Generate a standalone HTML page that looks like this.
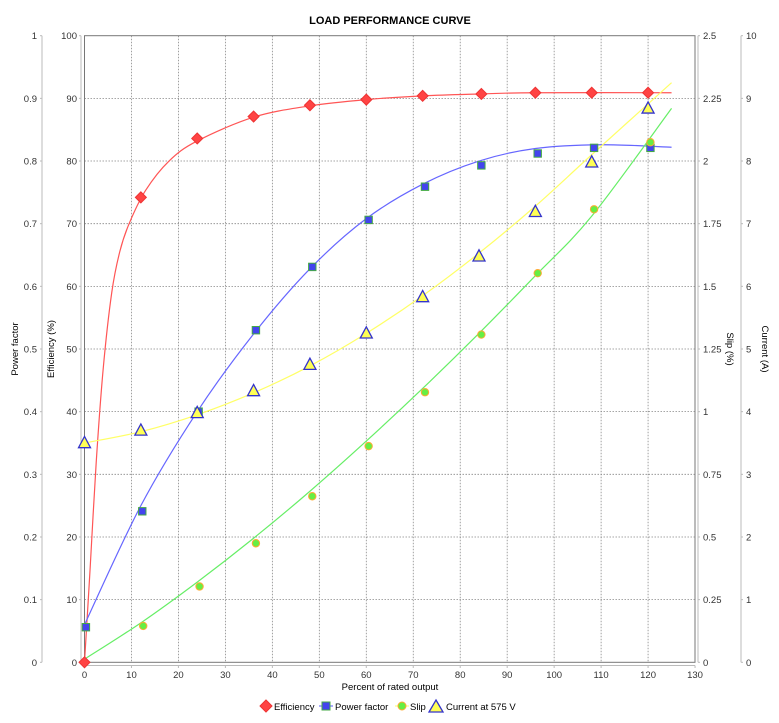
<!DOCTYPE html>
<html><head><meta charset="utf-8"><style>
body{margin:0;background:#fff;}
svg{display:block;font-family:"Liberation Sans","DejaVu Sans",sans-serif;}
</style></head><body>
<svg id="s" width="779" height="723" xmlns="http://www.w3.org/2000/svg">
<rect width="779" height="723" fill="#fff"/>
<text x="390" y="24" text-anchor="middle" font-size="11" font-weight="bold">LOAD PERFORMANCE CURVE</text>
<g id="grid"></g>
<rect x="84.5" y="35.7" width="610.5" height="626.6" fill="none" stroke="#777" stroke-width="1"/>
<g id="axes" font-size="9.5" fill="#333"></g>
<g id="curves" fill="none" stroke-width="1.2"></g>
<g id="marks"></g>
<text transform="translate(18,349) rotate(-90)" text-anchor="middle" font-size="9.5">Power factor</text>
<text transform="translate(54,349) rotate(-90)" text-anchor="middle" font-size="9.5">Efficiency (%)</text>
<text transform="translate(727,349) rotate(90)" text-anchor="middle" font-size="9.5">Slip (%)</text>
<text transform="translate(762,349) rotate(90)" text-anchor="middle" font-size="9.5">Current (A)</text>
<text x="390" y="690" text-anchor="middle" font-size="9.5">Percent of rated output</text>
<g font-size="9.5" id="legend">
<polygon points="266,700 272,706 266,712 260,706" fill="#f44" stroke="#e33"/>
<text x="274" y="710">Efficiency</text>
<line x1="319" y1="706" x2="333" y2="706" stroke="#55f"/><rect x="322" y="702" width="8" height="8" fill="#44e" stroke="#4a4"/>
<text x="335" y="710">Power factor</text>
<line x1="395" y1="706" x2="409" y2="706" stroke="#ff6"/><circle cx="402" cy="706" r="4" fill="#6e4" stroke="#fa3"/>
<text x="410" y="710">Slip</text>
<polygon points="436,700 443,712 429,712" fill="#ff5" stroke="#33c" stroke-width="1.3"/>
<text x="446" y="710">Current at 575 V</text>
</g>
</svg>
<script>
const NS="http://www.w3.org/2000/svg";
const X=v=>84.5+v*4.6965, Y=v=>662.3-v*6.266;
function el(p,t,a,txt){const e=document.createElementNS(NS,t);for(const k in a)e.setAttribute(k,a[k]);if(txt!==undefined)e.textContent=txt;document.getElementById(p).appendChild(e);return e;}
for(let i=1;i<13;i++)el("grid","line",{x1:X(i*10),x2:X(i*10),y1:35.7,y2:662.3,stroke:"#888","stroke-dasharray":"1.5,1.5","stroke-width":0.8});
for(let i=1;i<10;i++)el("grid","line",{x1:84.5,x2:695,y1:Y(i*10),y2:Y(i*10),stroke:"#888","stroke-dasharray":"1.5,1.5","stroke-width":0.8});
[[42],[81],[698],[741]].forEach(([x])=>el("axes","line",{x1:x,x2:x,y1:35.7,y2:662.3,stroke:"#bbb"}));
el("axes","line",{x1:84.5,x2:695,y1:665.5,y2:665.5,stroke:"#bbb"});
const pf=["0","0.1","0.2","0.3","0.4","0.5","0.6","0.7","0.8","0.9","1"];
const sl=["0","0.25","0.5","0.75","1","1.25","1.5","1.75","2","2.25","2.5"];
for(let i=0;i<=10;i++){const y=Y(i*10);
el("axes","text",{x:37,y:y+3.5,"text-anchor":"end"},pf[i]);el("axes","line",{x1:40,x2:42,y1:y,y2:y,stroke:"#bbb"});
el("axes","text",{x:77,y:y+3.5,"text-anchor":"end"},String(i*10));el("axes","line",{x1:79,x2:81,y1:y,y2:y,stroke:"#bbb"});
el("axes","text",{x:703,y:y+3.5},sl[i]);el("axes","line",{x1:698,x2:700,y1:y,y2:y,stroke:"#bbb"});
el("axes","text",{x:746,y:y+3.5},String(i));el("axes","line",{x1:741,x2:743,y1:y,y2:y,stroke:"#bbb"});}
for(let i=0;i<=13;i++){el("axes","text",{x:X(i*10),y:678,"text-anchor":"middle"},String(i*10));el("axes","line",{x1:X(i*10),x2:X(i*10),y1:665.5,y2:668,stroke:"#bbb"});}
function spline(pts,col){let d="M"+X(pts[0][0])+","+Y(pts[0][1]);
for(let i=0;i<pts.length-1;i++){const p0=pts[Math.max(0,i-1)],p1=pts[i],p2=pts[i+1],p3=pts[Math.min(pts.length-1,i+2)];
const t=1/6;const c1=[p1[0]+(p2[0]-p0[0])*t,p1[1]+(p2[1]-p0[1])*t],c2=[p2[0]-(p3[0]-p1[0])*t,p2[1]-(p3[1]-p1[1])*t];
d+=" C"+X(c1[0])+","+Y(c1[1])+" "+X(c2[0])+","+Y(c2[1])+" "+X(p2[0])+","+Y(p2[1]);}
el("curves","path",{d:d,stroke:col});}
const eff=[[0,0],[12,74.2],[24,83.6],[36,87.1],[48,88.9],[60,89.8],[72,90.4],[84.5,90.7],[96,90.9],[108,90.9],[120,90.9]];
const pfd=[[0.3,5.6],[12.3,24.1],[24.3,40],[36.5,53],[48.5,63.1],[60.5,70.6],[72.5,75.9],[84.5,79.3],[96.5,81.2],[108.5,82.1],[120.5,82.1]];
const sd=[[12.5,5.8],[24.5,12.1],[36.5,19],[48.5,26.5],[60.5,34.5],[72.5,43.1],[84.5,52.3],[96.5,62.1],[108.5,72.3],[120.5,83.0]];
const cd=[[0,35],[12,37],[24,39.8],[36,43.3],[48,47.5],[60,52.5],[72,58.3],[84,64.8],[96,71.9],[108,79.8],[120,88.4]];
spline([[0,0],[1.2,15],[2.5,32],[4,47],[5.8,59],[7.5,65.5],[9.5,70],[13,75.3],[18,80],[24,83.2],[36,87],[48,88.8],[60,89.8],[72,90.4],[84,90.7],[96,90.9],[125,90.9]],"#f55");
spline([[0,6],[12,25],[24,40],[36,52.4],[48,62.8],[60,70.8],[72,76.3],[84,80],[96,82],[110,82.6],[125,82.2]],"#66f");
spline([[0,0.5],[12,6.3],[24,12.8],[36,19.8],[48,27.3],[60,35.3],[72,43.7],[84,52.5],[96,61.7],[108,71.2],[125,88.4]],"#6e6");
spline([[0,35],[12,36.8],[24,39.5],[36,43],[48,47.3],[60,52.5],[72,58.5],[84,65.3],[96,72.8],[108,81],[125,92.5]],"#ff6");
eff.forEach(([x,y])=>{const a=X(x),b=Y(y);el("marks","polygon",{points:`${a},${b-5.5} ${a+5.5},${b} ${a},${b+5.5} ${a-5.5},${b}`,fill:"#f44",stroke:"#e33"});});
pfd.forEach(([x,y])=>el("marks","rect",{x:X(x)-3.7,y:Y(y)-3.7,width:7.4,height:7.4,fill:"#44e",stroke:"#4a4"}));
sd.forEach(([x,y])=>el("marks","circle",{cx:X(x),cy:Y(y),r:3.7,fill:"#6e4",stroke:"#fa3"}));
cd.forEach(([x,y])=>{const a=X(x),b=Y(y);el("marks","polygon",{points:`${a},${b-6.5} ${a+6},${b+4.7} ${a-6},${b+4.7}`,fill:"#ff5",stroke:"#33c","stroke-width":1.3});});
</script>
</body></html>
